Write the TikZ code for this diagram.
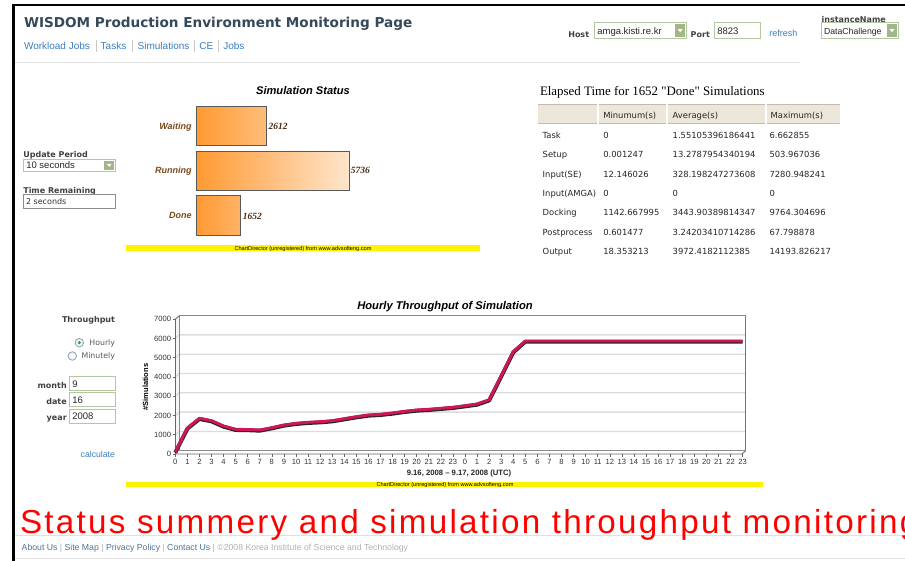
\documentclass[tikz,border=0pt]{standalone}
\usepackage{fontspec}
\setmainfont{Liberation Sans}
\newfontfamily\verd{DejaVu Sans}
\newfontfamily\tms{Liberation Serif}
\newfontfamily\bigred[LetterSpace=6.9]{Liberation Sans}
\newcommand\fs[1]{\fontsize{#1}{#1}\selectfont}

\definecolor{titleslate}{HTML}{34495A}
\definecolor{linkblue}{HTML}{3A7FC1}
\definecolor{sepgray}{HTML}{C8C8C8}
\definecolor{boxgreen}{HTML}{B3C7A0}
\definecolor{btngreen}{HTML}{A3B68A}
\definecolor{barbrown}{HTML}{7B4A1C}
\definecolor{valbrown}{HTML}{4A2A10}
\definecolor{barorange}{HTML}{FF9A33}
\definecolor{headbeige}{HTML}{ECE6DB}
\definecolor{headedge}{HTML}{C6BAA6}
\definecolor{gridgray}{HTML}{DCDCDC}
\definecolor{axisgray}{HTML}{8A8A8A}
\definecolor{ribbon}{HTML}{D0155A}
\definecolor{radioblue}{HTML}{7F9DB9}
\definecolor{radiogreen}{HTML}{3A9A3A}
\definecolor{footblue}{HTML}{4F7396}

% drop-down list: x1, y1, x2, y2, font size, shown entry
\newcommand\dropdown[6]{%
  \draw[boxgreen, fill=white, line width=0.9pt] (#1,#2) rectangle (#3,#4);
  \fill[btngreen] ({#3-11.5},{#2+1.5}) rectangle ({#3-1.5},{#4-1.5});
  \fill[white] ({#3-9},{(#2+#4)/2-1.6}) -- ({#3-4},{(#2+#4)/2-1.6}) -- ({#3-6.5},{(#2+#4)/2+1.6}) -- cycle;
  \node[anchor=base west, font=\fs{#5}, text=black!85] at ({#1+3},{(#2+#4)/2+3.4}) {#6};
}
% text field: x1, y1, x2, y2, border colour, content
\newcommand\textfield[6]{%
  \draw[#5, fill=white, line width=0.9pt] (#1,#2) rectangle (#3,#4);
  \node[anchor=base west, font=\fs{9.5}, text=black!85] at ({#1+3},{(#2+#4)/2+3.4}) {#6};
}
\newcommand\footsep{\textcolor{black!30}{\ |\ }}

\tikzset{
  every node/.style={inner sep=0pt, outer sep=0pt},
  formlabel/.style={font=\verd\bfseries\fs{8}, text=black!75},
  navlink/.style={font=\fs{10}, text=linkblue},
  navsep/.style={sepgray, line width=0.6pt},
  barlabel/.style={font=\bfseries\itshape\fs{9}, text=barbrown},
  barvalue/.style={font=\tms\bfseries\itshape\fs{9.5}, text=valbrown},
  statbar/.style={draw=black!65, line width=0.9pt, left color=barorange},
  tcell/.style={font=\verd\fs{8.4}, text=black!85},
  headcell/.style={fill=headbeige},
  ticklbl/.style={font=\fs{7.6}, text=black!80},
  yellowband/.style={fill=yellow},
  cdnote/.style={font=\fs{5.6}, text=black},
  radio/.style={draw=radioblue, line width=0.7pt, inner color=white, outer color=black!8},
}

\begin{document}
\begin{tikzpicture}[x=1pt, y=-1pt]
\useasboundingbox (0,0) rectangle (905,560);
\clip (0,0) rectangle (905,560);
\fill[white] (0,0) rectangle (905,560);

% page frame
\draw[line width=2.3pt] (13.6,561) -- (13.6,5.2) -- (906,5.2);

% ---------- header ----------
\node[anchor=base west, font=\verd\bfseries\fs{13.6}, text=titleslate] at (24,27.4)
  {WISDOM Production Environment Monitoring Page};
\node[navlink, anchor=base west] (nav1) at (24,49.6) {Workload Jobs};
\node[navlink, anchor=base west] (nav2) at (100.7,49.6) {Tasks};
\node[navlink, anchor=base west] (nav3) at (137.7,49.6) {Simulations};
\node[navlink, anchor=base west] (nav4) at (199.3,49.6) {CE};
\node[navlink, anchor=base west] (nav5) at (223.3,49.6) {Jobs};
\foreach \sx in {96,132.7,194,218.7} \draw[navsep] (\sx,39.5) -- (\sx,51.5);
\draw[black!12, line width=1pt] (14.5,62) -- (800,62);

\node[formlabel, anchor=base west] at (568.3,37.2) {Host};
\dropdown{594.3}{22.7}{686.7}{38.7}{9.5}{amga.kisti.re.kr}
\node[formlabel, anchor=base west] at (690.7,37.2) {Port};
\textfield{714.3}{22.7}{760}{38.7}{boxgreen}{8823}
\node[anchor=base west, font=\fs{9}, text=linkblue] at (769.3,36.4) {refresh};
\node[formlabel, anchor=base west] at (821.7,22.2) {instanceName};
\dropdown{821}{22.7}{898.5}{38.7}{8.7}{DataChallenge}

% ---------- status panel controls ----------
\node[formlabel, anchor=base west] at (23.3,157) {Update Period};
\dropdown{23.3}{159}{115.7}{171.7}{9.5}{10 seconds}
\node[formlabel, anchor=base west] at (23.3,193.6) {Time Remaining};
\draw[black!45, fill=white, line width=0.9pt] (23.3,194.5) rectangle (115.7,208.3);
\node[anchor=base west, font=\verd\fs{8}, text=black!80] at (26,204.2) {2 seconds};

% ---------- simulation status bar chart ----------
\node[anchor=base, font=\bfseries\itshape\fs{11.1}] at (303,94) {Simulation Status};
\draw[statbar, right color=orange!35!barorange!60!white] (196.7,106) rectangle (266.7,145.7);
\draw[statbar, right color=orange!20!white] (196.7,151.7) rectangle (349.3,190);
\draw[statbar, right color=barorange!75!white] (196.7,195.7) rectangle (240.7,235.7);
\node[barlabel, anchor=base east] at (191.7,129.2) {Waiting};
\node[barlabel, anchor=base east] at (191.7,173.2) {Running};
\node[barlabel, anchor=base east] at (191.7,218.9) {Done};
\node[barvalue, anchor=base west] at (268.7,129.4) {2612};
\node[barvalue, anchor=base west] at (350.9,173.4) {5736};
\node[barvalue, anchor=base west] at (242.9,219.1) {1652};
\fill[yellowband] (125.7,245.2) rectangle (480,251);
\node[cdnote, anchor=base] at (303,250) {ChartDirector (unregistered) from www.advsofteng.com};

% ---------- elapsed time table ----------
\node[anchor=base west, font=\tms\fs{12.9}] at (540,95) {Elapsed Time for 1652 "Done" Simulations};
\foreach \xa/\xb in {538/597, 599/666.3, 668.3/764.5, 766.5/840} {
  \fill[headcell] (\xa,104.3) rectangle (\xb,124);
  \draw[headedge, line width=1.1pt] (\xa,104.8) -- (\xb,104.8);
  \draw[headedge, line width=1.4pt] (\xa,123.5) -- (\xb,123.5);
}
\node[tcell, anchor=base west] at (603.3,118) {Minumum(s)};
\node[tcell, anchor=base west] at (672.7,118) {Average(s)};
\node[tcell, anchor=base west] at (770.7,118) {Maximum(s)};
\foreach \lab/\mn/\av/\mx [count=\r from 0] in {
  Task/0/1.55105396186441/6.662855,
  Setup/0.001247/13.2787954340194/503.967036,
  Input(SE)/12.146026/328.198247273608/7280.948241,
  Input(AMGA)/0/0/0,
  Docking/1142.667995/3443.90389814347/9764.304696,
  Postprocess/0.601477/3.24203410714286/67.798878,
  Output/18.353213/3972.4182112385/14193.826217} {
  \pgfmathsetmacro\yb{138.1+19.45*\r}
  \node[tcell, anchor=base west] at (542.7,\yb) {\lab};
  \node[tcell, anchor=base west] at (603.3,\yb) {\mn};
  \node[tcell, anchor=base west] at (672.7,\yb) {\av};
  \node[tcell, anchor=base west] at (769.5,\yb) {\mx};
}

% ---------- throughput controls ----------
\node[formlabel, anchor=base east] at (115,322.2) {Throughput};
\draw[radio] (79.3,342.7) circle (4.3);
\fill[radiogreen] (79.3,342.7) circle (1.7);
\node[anchor=base east, font=\verd\fs{7.8}, text=black!65] at (115,345.5) {Hourly};
\draw[radio] (72.3,356) circle (4.3);
\node[anchor=base east, font=\verd\fs{7.8}, text=black!65] at (115,358.8) {Minutely};
\node[formlabel, anchor=base east] at (66.7,388.6) {month};
\node[formlabel, anchor=base east] at (66.7,404.6) {date};
\node[formlabel, anchor=base east] at (66.7,420.6) {year};
\textfield{69.3}{376.7}{115.7}{390.7}{boxgreen}{9}
\textfield{69.3}{392.8}{115.7}{406.8}{boxgreen}{16}
\textfield{69.3}{409}{115.7}{423.3}{boxgreen}{2008}
\node[anchor=base east, font=\fs{8.7}, text=linkblue] at (115,457) {calculate};

% ---------- hourly throughput line chart ----------
\node[anchor=base, font=\bfseries\itshape\fs{11.2}] at (445,309.7) {Hourly Throughput of Simulation};
% back wall and grid
\fill[black!4] (175.5,319) -- (179.3,315.7) -- (179.3,450.7) -- (175.5,454) -- cycle;
\foreach \v in {1000,2000,...,6000} {
  \pgfmathsetmacro\gy{450.7-0.0193*\v}
  \draw[gridgray, line width=1.3pt] (175.5,\gy+3.3) -- (179.3,\gy) -- (745.7,\gy);
}
\draw[axisgray, line width=0.8pt] (179.3,450.7) -- (179.3,315.7) -- (745.7,315.7);
\draw[black!55, line width=1.4pt] (745.7,315.7) -- (745.7,450.7);
\draw[axisgray, line width=0.6pt] (179.3,450.7) -- (745.7,450.7);
% front axes
\draw[black!60, line width=0.8pt] (179.3,315.7) -- (175.5,319) -- (175.5,454) -- (741.9,454) -- (745.7,450.7);
\foreach \v in {0,1000,...,7000} {
  \pgfmathsetmacro\ty{454-0.01926*\v}
  \draw[black!60, line width=0.6pt] (172.6,\ty) -- (175.5,\ty);
  \node[ticklbl, anchor=base east] at (171,\ty+2.7) {\v};
}
\foreach \i in {0,...,47} {
  \pgfmathsetmacro\tx{175.3+12.07*\i}
  \pgfmathtruncatemacro\hr{mod(\i,24)}
  \draw[black!60, line width=0.6pt] (\tx,454) -- (\tx,457.3);
  \node[ticklbl, anchor=base] at (\tx,464.8) {\hr};
}
\node[anchor=base, font=\bfseries\fs{7.5}, rotate=90] at (148,387) {\#Simulations};
\node[anchor=base, font=\bfseries\fs{7.7}, text=black!85] at (459,475.6) {9.16, 2008 -- 9.17, 2008 (UTC)};
% data ribbon
\def\ribbonpath{(175.3,452) (187.37,428) (199.44,418.3) (211.51,420.7) (223.58,426) (235.65,429.3)
  (247.72,429.5) (259.79,430) (271.86,427.7) (283.93,425) (296,423.3) (308.07,422.3)
  (320.14,421.7) (332.21,420.7) (344.28,418.7) (356.35,416.7) (368.42,415) (380.49,414.3)
  (392.56,413) (404.63,411.3) (416.7,410) (428.77,409.3) (440.84,408.3) (452.91,407.3)
  (464.98,405.7) (477.05,404) (489.12,399.8) (501.19,376) (513.26,351.7) (525.33,341)
  (742.6,341)}
\draw[black!85, line width=3.9pt, line join=round, yshift=-0.7pt] plot coordinates {\ribbonpath};
\draw[ribbon, line width=2.9pt, line join=round] plot coordinates {\ribbonpath};
\foreach \i in {29,...,46} {
  \pgfmathsetmacro\tx{175.3+12.07*\i+6}
  \draw[black!70, line width=0.5pt] (\tx-1,341.9) -- (\tx+1,341.2);
}
\fill[yellowband] (125.7,481.7) rectangle (763,487.3);
\node[cdnote, anchor=base] at (445,486.5) {ChartDirector (unregistered) from www.advsofteng.com};

% ---------- footer ----------
\draw[black!12, line width=1pt] (14.5,535) -- (906,535);
\draw[black!12, line width=1pt] (14.5,558) -- (906,558);
\node[anchor=base west, font=\fs{8.7}] at (21.7,550) {%
  \textcolor{footblue}{About Us}\footsep\textcolor{footblue}{Site Map}\footsep
  \textcolor{footblue}{Privacy Policy}\footsep\textcolor{footblue}{Contact Us}\footsep
  \textcolor{black!30}{\textcopyright2008 Korea Institute of Science and Technology}};
\node[anchor=base west, font=\bigred\fs{33.2}, text=red] at (20,533)
  {Status summery and simulation throughput monitoring};
\end{tikzpicture}
\end{document}
